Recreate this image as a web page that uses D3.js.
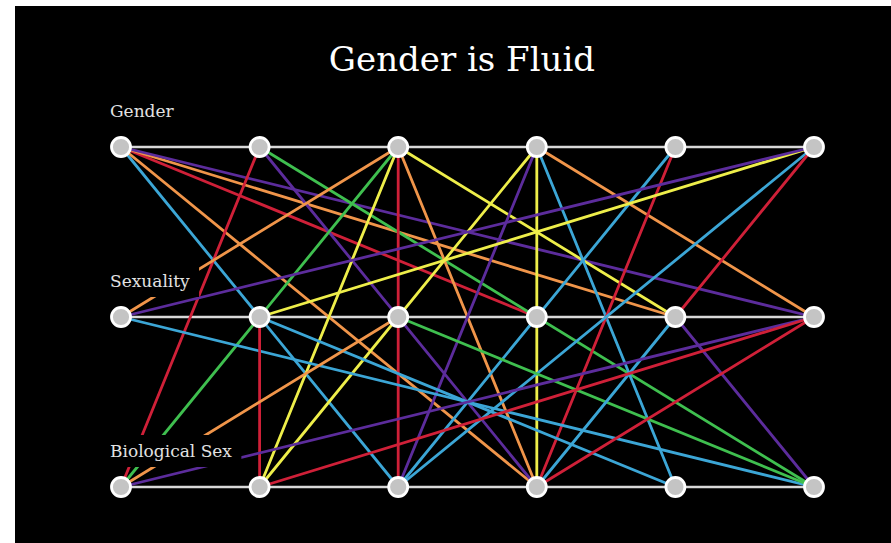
<!DOCTYPE html>
<html>
<head>
<meta charset="utf-8">
<script src="https://cdn.jsdelivr.net/npm/d3@7"></script>
<style>
  html, body { margin: 0; padding: 0; background: #ffffff; }
  svg { display: block; }
</style>
</head>
<body>
<svg id="chart" width="891" height="543"></svg>
<script>
// ---- data ----
const title = "Gender is Fluid";
const rows = ["Gender", "Sexuality", "Biological Sex"];
const columns = [0, 1, 2, 3, 4, 5];
const colourNames = ["red", "orange", "yellow", "green", "blue", "purple"];
// links: [fromRow, fromColumn, toRow, toColumn, colour]
const links = [
  ["Gender", 0, "Biological Sex", 2, "blue"],
  ["Gender", 0, "Sexuality", 3, "red"],
  ["Gender", 0, "Sexuality", 4, "orange"],
  ["Gender", 0, "Sexuality", 5, "purple"],
  ["Gender", 0, "Biological Sex", 3, "orange"],
  ["Gender", 1, "Biological Sex", 0, "red"],
  ["Gender", 1, "Biological Sex", 5, "green"],
  ["Gender", 1, "Biological Sex", 3, "purple"],
  ["Gender", 2, "Sexuality", 0, "orange"],
  ["Gender", 2, "Biological Sex", 0, "green"],
  ["Gender", 2, "Biological Sex", 1, "yellow"],
  ["Gender", 2, "Biological Sex", 2, "red"],
  ["Gender", 2, "Biological Sex", 3, "orange"],
  ["Gender", 2, "Sexuality", 4, "yellow"],
  ["Gender", 3, "Biological Sex", 1, "yellow"],
  ["Gender", 3, "Biological Sex", 3, "yellow"],
  ["Gender", 3, "Biological Sex", 2, "purple"],
  ["Gender", 3, "Biological Sex", 4, "blue"],
  ["Gender", 3, "Sexuality", 5, "orange"],
  ["Gender", 4, "Biological Sex", 2, "blue"],
  ["Gender", 4, "Biological Sex", 3, "red"],
  ["Gender", 5, "Sexuality", 1, "yellow"],
  ["Gender", 5, "Sexuality", 0, "purple"],
  ["Gender", 5, "Biological Sex", 2, "blue"],
  ["Gender", 5, "Sexuality", 4, "red"],
  ["Sexuality", 0, "Biological Sex", 5, "blue"],
  ["Sexuality", 1, "Biological Sex", 1, "red"],
  ["Sexuality", 1, "Biological Sex", 4, "blue"],
  ["Sexuality", 2, "Biological Sex", 0, "orange"],
  ["Sexuality", 2, "Biological Sex", 5, "green"],
  ["Sexuality", 4, "Biological Sex", 3, "blue"],
  ["Sexuality", 4, "Biological Sex", 5, "purple"],
  ["Biological Sex", 0, "Sexuality", 5, "purple"],
  ["Biological Sex", 1, "Sexuality", 5, "red"],
  ["Biological Sex", 3, "Sexuality", 5, "red"]
];

// ---- drawing ----
const svg = d3.select("#chart");
const W = 891, H = 543;

// black slide area (white strips at top and left)
svg.append("rect").attr("x", 15).attr("y", 6).attr("width", W - 15).attr("height", H - 6).attr("fill", "#000");

const x = d3.scalePoint().domain(columns).range([121, 814]);
const y = d3.scalePoint().domain(rows).range([147, 487]);
const colour = d3.scaleOrdinal().domain(colourNames)
  .range(["#cf2038", "#f0954a", "#eeee4a", "#3fbf4f", "#3ca6d6", "#5c2c9c"]);

// title
svg.append("text")
  .attr("x", 462).attr("y", 71)
  .attr("text-anchor", "middle")
  .attr("font-family", "'DejaVu Serif', serif")
  .attr("font-size", 34)
  .attr("fill", "#ffffff")
  .text(title);

// white row lines
svg.append("g").selectAll("line").data(rows).join("line")
  .attr("x1", x(columns[0])).attr("x2", x(columns[columns.length - 1]))
  .attr("y1", d => y(d)).attr("y2", d => y(d))
  .attr("stroke", "#d8d8d8").attr("stroke-width", 2.5);

// coloured links
svg.append("g").selectAll("line").data(links).join("line")
  .attr("x1", d => x(d[1])).attr("y1", d => y(d[0]))
  .attr("x2", d => x(d[3])).attr("y2", d => y(d[2]))
  .attr("stroke", d => colour(d[4]))
  .attr("stroke-width", 2.8)
  .attr("stroke-linecap", "round");

// row labels with black background boxes
const labelOffset = 30; // label baseline above row
const labels = svg.append("g");
rows.forEach((r, i) => {
  const g = labels.append("g");
  const t = g.append("text")
    .attr("x", 110)
    .attr("y", y(r) - labelOffset)
    .attr("font-family", "'DejaVu Serif', serif")
    .attr("font-size", 17)
    .attr("fill", "#e2e2e2")
    .text(r);
  if (i > 0) {
    const b = t.node().getBBox();
    g.insert("rect", "text")
      .attr("x", b.x - 8).attr("y", b.y - 6)
      .attr("width", b.width + 17).attr("height", b.height + 12)
      .attr("fill", "#000");
  }
});

// nodes
const nodes = [];
rows.forEach(r => columns.forEach(c => nodes.push([r, c])));
svg.append("g").selectAll("circle").data(nodes).join("circle")
  .attr("cx", d => x(d[1])).attr("cy", d => y(d[0]))
  .attr("r", 9.5)
  .attr("fill", "#c4c4c4")
  .attr("stroke", "#ffffff")
  .attr("stroke-width", 2.8);
</script>
</body>
</html>
